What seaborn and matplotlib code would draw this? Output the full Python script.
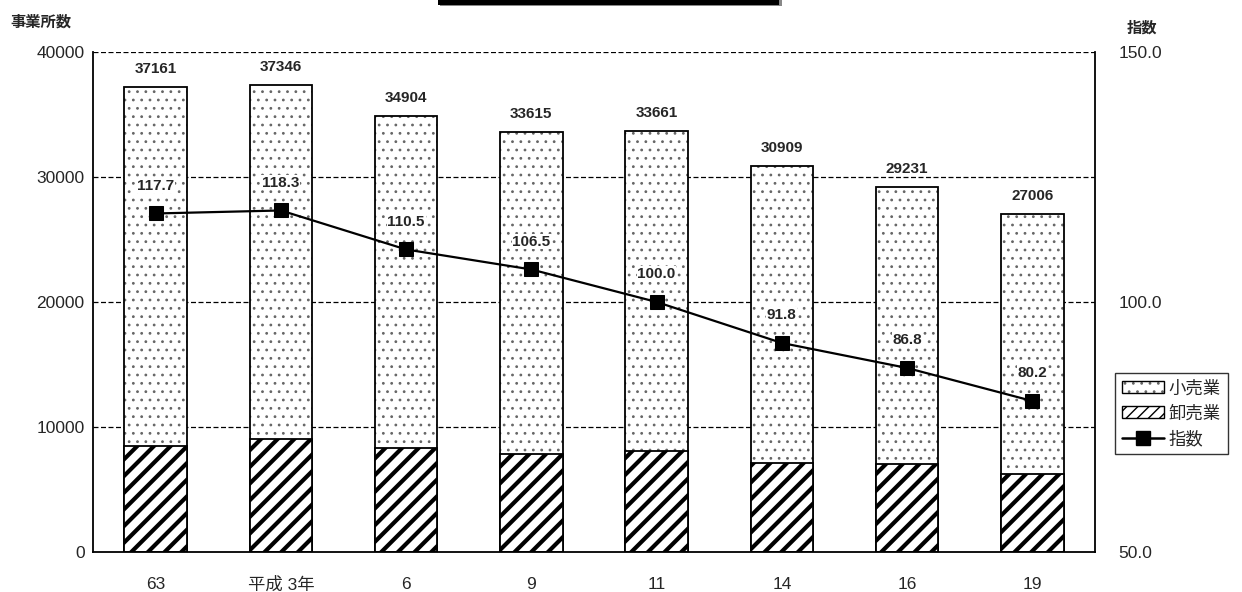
import numpy as np
import pandas as pd
import seaborn as sns
import matplotlib.pyplot as plt
from matplotlib.patches import Patch, Rectangle
from matplotlib.lines import Line2D

years = ["63", "平成 3年", "6", "9", "11", "14", "16", "19"]
total = [37161, 37346, 34904, 33615, 33661, 30909, 29231, 27006]
wholesale = [8440, 9000, 8310, 7820, 8090, 7150, 7010, 6270]
index_vals = [117.7, 118.3, 110.5, 106.5, 100.0, 91.8, 86.8, 80.2]

sns.set_style("white")
plt.rcParams['font.family'] = ['Liberation Sans', 'Noto Sans CJK JP', 'DejaVu Sans']

df = pd.DataFrame({"year": years, "total": total, "wholesale": wholesale})

fig = plt.figure(figsize=(12.42, 5.92), dpi=100)
ax = fig.add_axes([0.0749, 0.0676, 0.8067, 0.8446])

# retail part (drawn as full total height, wholesale on top of it)
with plt.rc_context({'hatch.linewidth': 0.8}):
    sns.barplot(data=df, x="year", y="total", ax=ax, color="white",
                edgecolor="black", linewidth=1.3, width=0.5, hatch="..",
                order=years, saturation=1)
n1 = len(ax.patches)
with plt.rc_context({'hatch.linewidth': 3.0}):
    sns.barplot(data=df, x="year", y="wholesale", ax=ax, color="white",
                edgecolor="black", linewidth=1.3, width=0.5, hatch="//",
                order=years, saturation=1)
for i, p in enumerate(ax.patches):
    lw = 0.8 if i < n1 else 3.0
    if hasattr(p, "set_hatch_linewidth"):
        p.set_hatch_linewidth(lw)
    if i < n1:
        p._hatch_color = (0.4, 0.4, 0.4, 1.0)

ax.set_ylim(0, 40000)
ax.set_xlim(-0.5, len(years) - 0.5)
ax.set_yticks([0, 10000, 20000, 30000, 40000])
ax.set_xlabel("")
ax.set_ylabel("")
for y in [10000, 20000, 30000, 40000]:
    ax.axhline(y, color="black", lw=0.9, ls=(0, (4, 2)), zorder=0.5)
ax.spines["top"].set_visible(False)
for s in ["left", "right", "bottom"]:
    ax.spines[s].set_color("black")
    ax.spines[s].set_linewidth(1.3)
ax.tick_params(axis="y", length=0, pad=6, labelsize=12.5)
ax.tick_params(axis="x", length=0, pad=18, labelsize=12.5)
ax.set_xticks(np.arange(0.5, len(years) - 0.5), minor=True)
ax.tick_params(axis="x", which="minor", direction="in", length=6, width=1.2, color="black")

for i, t in enumerate(total):
    ax.annotate(str(t), (i, t), xytext=(0, 13), textcoords="offset points",
                ha="center", va="center", fontsize=11, fontweight="bold")

ax2 = ax.twinx()
sns.lineplot(x=np.arange(len(years)), y=index_vals, ax=ax2, color="black",
             lw=1.6, marker="s", markersize=10, markeredgecolor="black")
ax2.set_ylim(50, 150)
ax2.set_yticks([50, 100, 150])
ax2.set_yticklabels(["50.0", "100.0", "150.0"])
ax2.tick_params(axis="y", length=0, pad=17, labelsize=12.5)
for s in ax2.spines.values():
    s.set_visible(False)
for i, v in enumerate(index_vals):
    ax2.annotate(f"{v:.1f}", (i, v), xytext=(0, 20), textcoords="offset points",
                 ha="center", va="center", fontsize=11, fontweight="bold",
                 bbox=dict(facecolor="white", edgecolor="none", pad=0.5))

fig.text(10 / 1242, 1 - 22 / 592, "事業所数", fontsize=11, fontweight="bold",
         va="center", ha="left")
fig.text(1142 / 1242, 1 - 28 / 592, "指数", fontsize=11, fontweight="bold",
         va="center", ha="center")

handles = [Patch(facecolor="white", edgecolor="black", hatch="..", label="小売業"),
           Patch(facecolor="white", edgecolor="black", hatch="///", label="卸売業"),
           Line2D([], [], color="black", lw=1.8, marker="s", markersize=10, label="指数")]
leg = fig.legend(handles=handles, loc="upper left",
                 bbox_to_anchor=(1115 / 1242, 1 - 373 / 592),
                 frameon=True, fancybox=False, edgecolor="black", fontsize=12.5,
                 handlelength=2.4, handletextpad=0.3, labelspacing=0.5,
                 borderpad=0.4, borderaxespad=0)
leg.get_frame().set_linewidth(1.0)
for h in leg.legend_handles[:1]:
    if hasattr(h, "set_hatch_linewidth"):
        h.set_hatch_linewidth(0.8)
    h._hatch_color = (0.4, 0.4, 0.4, 1.0)

# cropped title box at the top edge
fig.patches.append(Rectangle((440 / 1242, 1 - 6 / 592), 342 / 1242, 6 / 592,
                             transform=fig.transFigure, facecolor="#888888",
                             edgecolor="none"))
fig.patches.append(Rectangle((438 / 1242, 1 - 5 / 592), 341 / 1242, 5 / 592,
                             transform=fig.transFigure, facecolor="black",
                             edgecolor="none"))

fig.savefig("out.png", dpi=100)
